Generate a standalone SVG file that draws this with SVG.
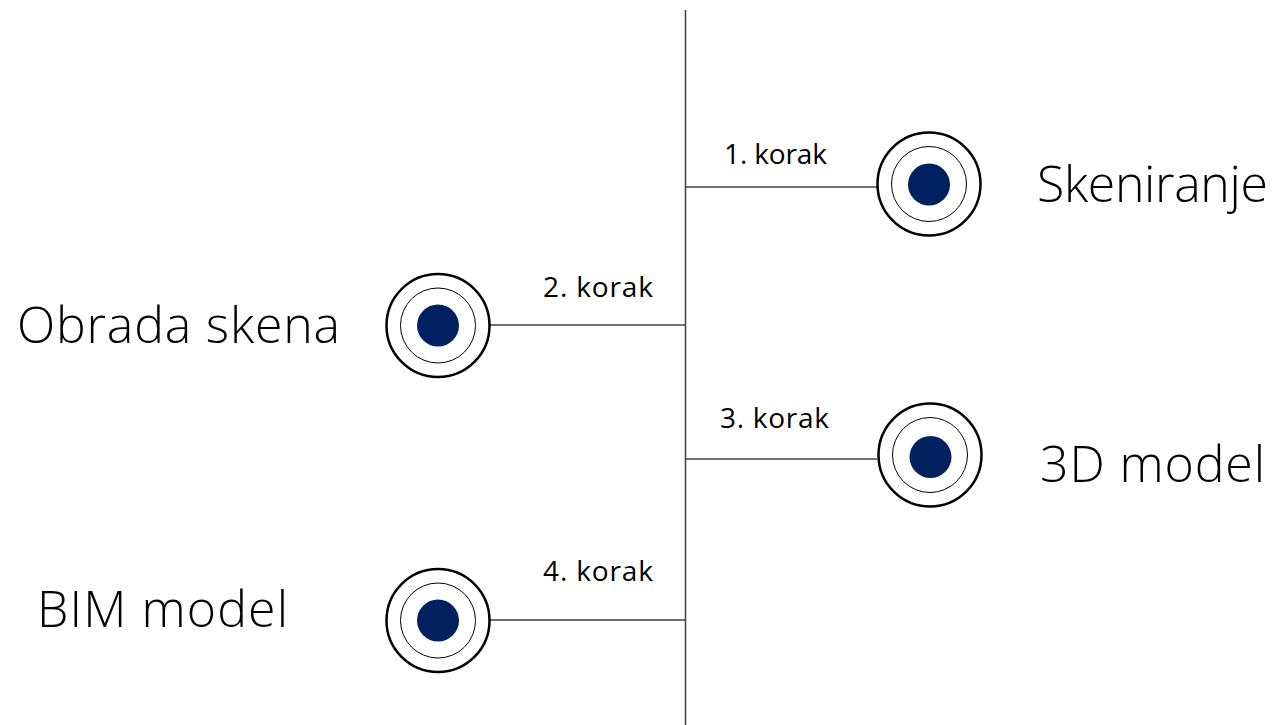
<svg xmlns="http://www.w3.org/2000/svg" width="1279" height="725" viewBox="0 0 1279 725">
<style>
.bg{fill:#ffffff}
.conn{stroke:#404040;stroke-width:1.5;fill:none}
.outer{fill:#ffffff;stroke:#000000;stroke-width:2.5}
.inner{fill:none;stroke:#000000;stroke-width:1}
.dot{fill:#002060}
.big{font-family:"Open Sans","Segoe UI","Liberation Sans",sans-serif;font-weight:300;font-size:50px;fill:#000000}
.step{font-family:"Open Sans","Segoe UI","Liberation Sans",sans-serif;font-weight:400;font-size:28px;fill:#000000}
</style>
<rect class="bg" x="0" y="0" width="1279" height="725"/>
<g id="connectors">
<line class="conn" x1="685.5" y1="10" x2="685.5" y2="725"/>
<line class="conn" x1="685.5" y1="187" x2="877" y2="187"/>
<line class="conn" x1="490" y1="325" x2="685.5" y2="325"/>
<line class="conn" x1="685.5" y1="459" x2="877" y2="459"/>
<line class="conn" x1="490" y1="620" x2="685.5" y2="620"/>
</g>
<g id="step1">
<text class="step" x="724" y="164" textLength="103">1. korak</text>
<circle class="outer" cx="929" cy="184" r="51.5"/>
<circle class="inner" cx="929" cy="184" r="37.5"/>
<circle class="dot" cx="929" cy="184.5" r="21"/>
<text class="big" x="1037" y="202" textLength="231">Skeniranje</text>
</g>
<g id="step2">
<text class="step" x="543" y="297" textLength="110">2. korak</text>
<circle class="outer" cx="438" cy="325.5" r="51.5"/>
<circle class="inner" cx="438" cy="325.5" r="37.5"/>
<circle class="dot" cx="438" cy="325.5" r="21"/>
<text class="big" x="17" y="343" textLength="323">Obrada skena</text>
</g>
<g id="step3">
<text class="step" x="720" y="428" textLength="109">3. korak</text>
<circle class="outer" cx="930" cy="455" r="51.5"/>
<circle class="inner" cx="930" cy="455" r="37.5"/>
<circle class="dot" cx="930.5" cy="457" r="21"/>
<text class="big" x="1040" y="482" textLength="225">3D model</text>
</g>
<g id="step4">
<text class="step" x="543" y="581" textLength="110">4. korak</text>
<circle class="outer" cx="438" cy="620.5" r="51.5"/>
<circle class="inner" cx="438" cy="620.5" r="37.5"/>
<circle class="dot" cx="438" cy="620.5" r="21"/>
<text class="big" x="37" y="627" textLength="251">BIM model</text>
</g>
</svg>
